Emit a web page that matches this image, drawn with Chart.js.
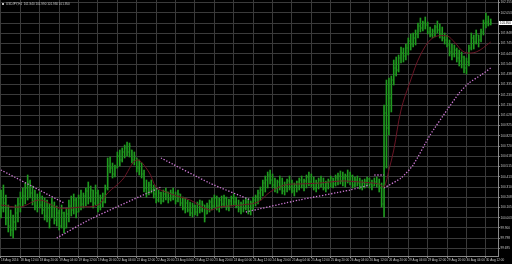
<!DOCTYPE html>
<html lang="en">
<head>
<meta charset="UTF-8">
<title>USDJPY,H1</title>
<script src="https://cdn.jsdelivr.net/npm/chart.js"></script>
<style>
    body { margin: 0; background: #000; }
    .wrap { width: 512px; height: 264px; position: relative; }
</style>
</head>
<body>
<div class="wrap"><canvas id="chart"></canvas></div>
<script>
// H1 bars, index 0 = 18 Aug 04:00
const symbol = 'USDJPY,H1';
const highs = [
    100.28,100.33,100.23,100.13,100.08,100.03,100.13,100.20,100.26,100.30,
    100.35,100.43,100.38,100.32,100.28,100.24,100.26,100.22,100.20,100.18,
    100.14,100.20,100.16,100.12,100.08,100.13,100.06,100.10,100.18,100.22,
    100.24,100.20,100.23,100.28,100.25,100.30,100.36,100.32,100.28,100.33,
    100.28,100.23,100.25,100.33,100.60,100.61,100.55,100.53,100.66,100.68,
    100.70,100.73,100.76,100.75,100.68,100.66,100.60,100.58,100.55,100.48,
    100.38,100.36,100.38,100.33,100.30,100.28,100.26,100.28,100.30,100.26,
    100.28,100.30,100.26,100.28,100.24,100.21,100.20,100.18,100.16,100.15,
    100.13,100.16,100.18,100.17,100.13,100.15,100.18,100.20,100.23,100.22,
    100.20,100.22,100.23,100.21,100.19,100.22,100.24,100.21,100.18,100.16,
    100.18,100.20,100.19,100.17,100.21,100.23,100.28,100.31,100.38,100.42,
    100.46,100.48,100.44,100.40,100.38,100.42,100.40,100.36,100.39,100.42,
    100.38,100.35,100.37,100.40,100.42,100.39,100.43,100.46,100.44,100.41,
    100.38,100.40,100.42,100.40,100.37,100.39,100.42,100.40,100.43,100.45,
    100.47,100.46,100.44,100.48,100.46,100.43,100.41,100.42,100.40,100.38,
    100.39,100.41,100.40,100.38,100.40,100.41,100.39,100.35,101.13,101.38,
    101.40,101.42,101.58,101.61,101.63,101.71,101.70,101.74,101.80,101.84,
    101.85,101.88,101.95,102.00,101.97,102.01,101.96,101.91,101.89,101.93,
    101.97,101.94,101.91,101.85,101.83,101.78,101.74,101.73,101.70,101.68,
    101.66,101.62,101.60,101.73,101.85,101.83,101.88,101.83,101.89,101.98,
    102.05,102.02,101.99
];
const lows = [
    100.00,100.06,99.93,99.86,99.82,99.80,99.88,99.96,100.06,100.12,
    100.14,100.18,100.20,100.13,100.08,100.06,100.10,100.04,99.98,99.96,
    99.90,100.00,99.94,99.92,99.88,99.90,99.85,99.90,99.96,100.02,
    100.04,100.00,100.06,100.08,100.10,100.12,100.14,100.16,100.10,100.13,
    100.06,100.08,100.11,100.15,100.28,100.45,100.40,100.41,100.50,100.52,
    100.56,100.60,100.62,100.61,100.55,100.53,100.46,100.43,100.40,100.26,
    100.21,100.23,100.25,100.20,100.15,100.16,100.14,100.16,100.18,100.15,
    100.17,100.18,100.14,100.16,100.12,100.08,100.05,100.06,100.02,100.01,
    100.03,100.02,100.05,100.06,99.96,100.04,100.06,100.08,100.10,100.08,
    100.06,100.10,100.11,100.08,100.07,100.12,100.13,100.10,100.06,100.04,
    100.06,100.08,100.04,100.03,100.08,100.12,100.14,100.18,100.22,100.26,
    100.30,100.34,100.30,100.26,100.25,100.28,100.24,100.23,100.26,100.28,
    100.25,100.22,100.26,100.28,100.30,100.27,100.30,100.32,100.31,100.28,
    100.26,100.29,100.31,100.28,100.26,100.29,100.31,100.30,100.32,100.33,
    100.34,100.32,100.31,100.35,100.33,100.30,100.31,100.32,100.29,100.28,
    100.30,100.32,100.30,100.28,100.32,100.31,100.26,100.11,100.01,100.50,
    100.83,101.06,101.33,101.42,101.46,101.55,101.56,101.58,101.63,101.68,
    101.71,101.73,101.80,101.86,101.87,101.89,101.84,101.81,101.80,101.81,
    101.85,101.80,101.77,101.74,101.71,101.62,101.58,101.61,101.56,101.52,
    101.50,101.45,101.44,101.52,101.68,101.69,101.74,101.71,101.76,101.83,
    101.90,101.92,101.93
];
const opens = [
    100.20,100.10,100.15,100.00,99.92,99.88,99.96,100.05,100.14,100.20,
    100.22,100.30,100.36,100.25,100.17,100.12,100.18,100.13,100.08,100.02,
    100.10,100.00,100.12,99.98,100.05,99.92,100.05,99.90,100.04,100.12,
    100.08,100.18,100.06,100.20,100.14,100.22,100.27,100.20,100.28,100.15,
    100.25,100.12,100.20,100.16,100.30,100.52,100.50,100.44,100.50,100.62,
    100.58,100.66,100.70,100.66,100.68,100.58,100.60,100.50,100.55,100.44,
    100.30,100.25,100.33,100.28,100.24,100.18,100.25,100.17,100.24,100.26,
    100.19,100.25,100.22,100.17,100.24,100.15,100.10,100.15,100.08,100.05,
    100.12,100.06,100.14,100.08,100.13,100.04,100.12,100.16,100.12,100.20,
    100.12,100.18,100.14,100.20,100.12,100.17,100.20,100.16,100.12,100.09,
    100.14,100.10,100.16,100.07,100.15,100.18,100.21,100.25,100.28,100.35,
    100.38,100.43,100.38,100.33,100.30,100.36,100.32,100.27,100.33,100.37,
    100.31,100.27,100.33,100.36,100.38,100.33,100.37,100.41,100.36,100.33,
    100.30,100.35,100.38,100.34,100.30,100.35,100.37,100.40,100.34,100.40,
    100.42,100.37,100.40,100.42,100.38,100.42,100.33,100.38,100.35,100.31,
    100.35,100.37,100.39,100.34,100.32,100.36,100.34,100.30,100.14,101.05,
    100.90,101.20,101.38,101.50,101.48,101.60,101.65,101.62,101.70,101.77,
    101.74,101.80,101.84,101.92,101.90,101.95,101.93,101.86,101.83,101.87,
    101.91,101.88,101.84,101.80,101.78,101.73,101.66,101.64,101.68,101.60,
    101.57,101.61,101.50,101.56,101.70,101.80,101.76,101.83,101.78,101.86,
    101.95,101.96,101.94
];
const closes = [
    100.10,100.15,100.00,99.92,99.88,99.96,100.05,100.14,100.20,100.22,
    100.30,100.36,100.25,100.17,100.12,100.18,100.13,100.08,100.02,100.10,
    99.98,100.12,99.98,100.05,99.92,100.05,99.90,100.04,100.12,100.08,
    100.18,100.06,100.20,100.14,100.22,100.27,100.20,100.28,100.15,100.25,
    100.12,100.20,100.16,100.30,100.52,100.50,100.44,100.50,100.62,100.58,
    100.66,100.70,100.66,100.72,100.58,100.62,100.50,100.55,100.44,100.30,
    100.25,100.33,100.28,100.24,100.18,100.25,100.17,100.24,100.26,100.19,
    100.25,100.22,100.17,100.24,100.15,100.10,100.15,100.08,100.05,100.12,
    100.06,100.14,100.08,100.14,100.00,100.12,100.16,100.12,100.20,100.12,
    100.18,100.14,100.20,100.12,100.17,100.20,100.16,100.12,100.09,100.14,
    100.10,100.16,100.07,100.15,100.18,100.21,100.25,100.28,100.35,100.38,
    100.43,100.38,100.33,100.30,100.36,100.32,100.27,100.33,100.37,100.31,
    100.27,100.33,100.36,100.38,100.33,100.37,100.41,100.36,100.33,100.30,
    100.35,100.38,100.34,100.30,100.35,100.37,100.40,100.34,100.40,100.42,
    100.37,100.40,100.42,100.38,100.42,100.33,100.38,100.35,100.31,100.35,
    100.37,100.39,100.34,100.31,100.36,100.34,100.30,100.14,101.05,100.90,
    101.20,101.38,101.50,101.48,101.60,101.65,101.62,101.70,101.77,101.74,
    101.80,101.84,101.92,101.90,101.95,101.93,101.86,101.83,101.87,101.91,
    101.88,101.84,101.80,101.78,101.73,101.66,101.64,101.68,101.60,101.57,
    101.61,101.50,101.56,101.70,101.80,101.76,101.84,101.78,101.86,101.95,
    101.96,101.94,101.95
];

// moving average (dark red), read at a few bars
const maBars   = [0, 8, 16, 24, 33, 40, 44, 50, 56, 61, 64, 68, 74, 78, 86, 90, 99, 106, 111, 117, 123, 132, 140, 148, 156, 158, 160, 162, 165, 169, 173, 178, 184, 187, 191, 196, 202];
const maValues = [100.13, 100.11, 100.18, 100.10, 100.11, 100.13, 100.25, 100.38, 100.58, 100.46, 100.31, 100.26, 100.21, 100.18, 100.08, 100.11, 100.13, 100.16, 100.26, 100.33, 100.34, 100.35, 100.37, 100.36, 100.34, 100.31, 100.48, 100.68, 101.08, 101.38, 101.63, 101.80, 101.82, 101.76, 101.66, 101.66, 101.76];

// dotted purple indicator, one list per segment
const dotBarsA = [0, 26];              const dotValsA = [100.48, 100.15];
const dotBarsB = [23, 37, 66];         const dotValsB = [99.80, 99.99, 100.31];
const dotBarsC = [66, 86, 103];        const dotValsC = [100.60, 100.35, 100.18];
const dotBarsD = [101, 123, 144, 152]; const dotValsD = [100.06, 100.18, 100.28, 100.33];
const dotBarsF = [154, 158];           const dotValsF = [100.43, 100.43];
const dotBarsE = [158, 165, 170, 177, 184, 189, 193, 198, 202];
const dotValsE = [100.30, 100.40, 100.53, 100.83, 101.08, 101.25, 101.35, 101.43, 101.50];

const yTicks = [102.155, 102.053, 101.950, 101.848, 101.745, 101.643, 101.540, 101.438, 101.335, 101.233,
                101.130, 101.028, 100.925, 100.823, 100.720, 100.618, 100.515, 100.413, 100.310, 100.208,
                100.105, 100.003, 99.900, 99.798, 99.695];
const xTickBars = [0, 8, 16, 24, 32, 40, 48, 56, 64, 72, 80, 88, 96, 104, 112, 120, 128, 136, 144, 152, 160, 168, 176, 184, 192, 200];
const xTickLabels = ['18 Aug 2016', '18 Aug 12:00', '18 Aug 20:00', '19 Aug 04:00', '19 Aug 12:00', '19 Aug 20:00',
                     '22 Aug 04:00', '22 Aug 12:00', '22 Aug 20:00', '23 Aug 04:00', '23 Aug 12:00', '23 Aug 20:00',
                     '24 Aug 04:00', '24 Aug 12:00', '24 Aug 20:00', '25 Aug 04:00', '25 Aug 12:00', '25 Aug 20:00',
                     '26 Aug 04:00', '26 Aug 12:00', '26 Aug 20:00', '29 Aug 04:00', '29 Aug 12:00', '29 Aug 20:00',
                     '30 Aug 04:00', '30 Aug 12:00'];

const barColor = '#1f9a1f';
const dotColor = '#d07ad8';
const gridColor = '#3a3a3a';
const axisColor = '#8a8a8a';
const textColor = '#c8c8c8';
const tinyFont = { family: 'Liberation Sans', size: 3.1 };

function pts(bars, vals) {
    return bars.map((b, i) => ({ x: b, y: vals[i] }));
}
function dotted(bars, vals) {
    return {
        type: 'line', data: pts(bars, vals), borderColor: dotColor, borderWidth: 1.3,
        borderDash: [1.3, 1.7], pointRadius: 0, tension: 0.2, order: 1
    };
}

// black background
const background = {
    id: 'background',
    beforeDraw(chart) {
        const ctx = chart.ctx;
        ctx.save();
        ctx.fillStyle = '#000';
        ctx.fillRect(0, 0, chart.width, chart.height);
        ctx.restore();
    }
};

// open / close ticks of each bar
const ohlcTicks = {
    id: 'ohlcTicks',
    afterDatasetsDraw(chart) {
        const xs = chart.scales.x, ys = chart.scales.y, ctx = chart.ctx, a = chart.chartArea;
        ctx.save();
        ctx.beginPath();
        ctx.rect(a.left, a.top, a.right - a.left, a.bottom - a.top);
        ctx.clip();
        ctx.fillStyle = barColor;
        for (let i = 0; i < highs.length; i++) {
            const x = xs.getPixelForValue(i);
            ctx.fillRect(x - 1.1, ys.getPixelForValue(opens[i]) - 0.5, 0.6, 1);
            ctx.fillRect(x + 0.5, ys.getPixelForValue(closes[i]) - 0.5, 0.6, 1);
        }
        ctx.restore();
    }
};

// symbol line at top-left and last price tag on the axis
const header = {
    id: 'header',
    afterDraw(chart) {
        const ctx = chart.ctx, ys = chart.scales.y, a = chart.chartArea;
        const last = closes.length - 1;
        ctx.save();
        ctx.font = '3px "Liberation Sans"';
        ctx.textBaseline = 'middle';
        ctx.fillStyle = '#bdbdbd';
        ctx.fillRect(2, 3, 2, 2);
        const ohlc = [opens[last], highs[last], lows[last], closes[last]].map(v => v.toFixed(3)).join(' ');
        ctx.fillStyle = textColor;
        ctx.fillText(symbol + '  ' + ohlc, 6, 4.2);
        const y = ys.getPixelForValue(closes[last]);
        ctx.fillStyle = '#ffffff';
        ctx.fillRect(a.right + 1, y - 2, 13, 4);
        ctx.fillStyle = '#000000';
        ctx.fillText(closes[last].toFixed(3), a.right + 2, y + 0.2);
        ctx.restore();
    }
};

new Chart(document.getElementById('chart'), {
    type: 'bar',
    data: {
        datasets: [
            {
                type: 'bar',
                data: highs.map((h, i) => ({ x: i, y: [lows[i], h] })),
                backgroundColor: barColor,
                barThickness: 1,
                order: 2
            },
            {
                type: 'line', data: pts(maBars, maValues), borderColor: '#6c1626', borderWidth: 1,
                pointRadius: 0, tension: 0.35, order: 1
            },
            dotted(dotBarsA, dotValsA),
            dotted(dotBarsB, dotValsB),
            dotted(dotBarsC, dotValsC),
            dotted(dotBarsD, dotValsD),
            dotted(dotBarsF, dotValsF),
            dotted(dotBarsE, dotValsE)
        ]
    },
    options: {
        responsive: true,
        maintainAspectRatio: false,
        animation: false,
        devicePixelRatio: 1,
        layout: { padding: 0 },
        plugins: { legend: { display: false }, tooltip: { enabled: false } },
        scales: {
            x: {
                type: 'linear',
                min: -0.41,
                max: 205.0,
                offset: false,
                bounds: 'data',
                grid: { color: gridColor, offset: false, tickLength: 2, tickColor: axisColor },
                border: { color: axisColor },
                ticks: {
                    color: textColor, font: tinyFont, align: 'start', autoSkip: false,
                    maxRotation: 0, minRotation: 0, padding: 0.5,
                    callback: (v, idx) => xTickLabels[idx]
                },
                afterBuildTicks: s => { s.ticks = xTickBars.map(b => ({ value: b })); },
                afterFit: s => { s.height = 8; s.paddingLeft = 0; s.paddingRight = 0; }
            },
            y: {
                position: 'right',
                min: 99.62,
                max: 102.18,
                beginAtZero: false,
                bounds: 'data',
                grid: { color: gridColor, tickLength: 2, tickColor: axisColor },
                border: { color: axisColor },
                ticks: {
                    color: textColor, font: tinyFont, padding: 0.5,
                    callback: v => v.toFixed(3)
                },
                afterBuildTicks: s => { s.ticks = yTicks.map(v => ({ value: v })); },
                afterFit: s => { s.width = 14; s.paddingTop = 0; s.paddingBottom = 0; }
            }
        }
    },
    plugins: [background, ohlcTicks, header]
});
</script>
</body>
</html>
